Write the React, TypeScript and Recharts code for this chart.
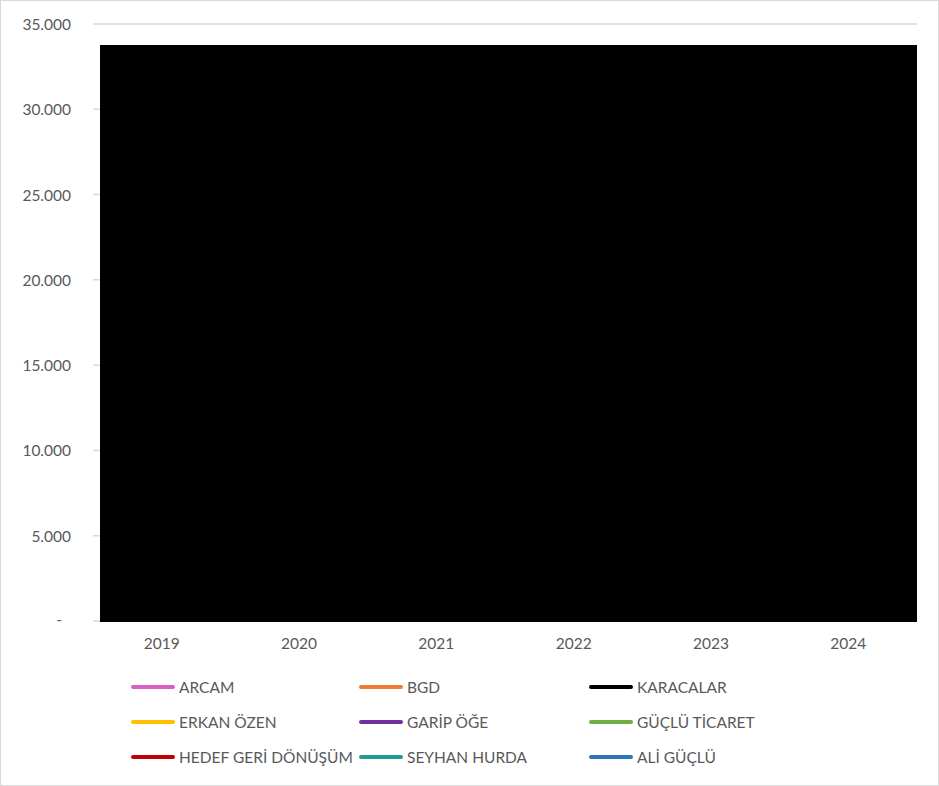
import React from 'react';
import { Bar, CartesianGrid, ComposedChart, XAxis, YAxis } from 'recharts';

const years = ['2019', '2020', '2021', '2022', '2023', '2024'];
const karacalar = [33750, 33750, 33750, 33750, 33750, 33750];
const yTicks = [0, 5000, 10000, 15000, 20000, 25000, 30000, 35000];

const seriesNames = [
  'ARCAM', 'BGD', 'KARACALAR',
  'ERKAN ÖZEN', 'GARİP ÖĞE', 'GÜÇLÜ TİCARET',
  'HEDEF GERİ DÖNÜŞÜM', 'SEYHAN HURDA', 'ALİ GÜÇLÜ',
];
const seriesColors = [
  '#d95fc0', '#ed7d31', '#000000',
  '#ffc000', '#7030a0', '#70ad47',
  '#c00000', '#1f9a94', '#2e75b6',
];

const data = years.map((year, i) => ({ year, KARACALAR: karacalar[i] }));

const FONT = 'Lato, "Open Sans", sans-serif';
const TEXT = '#595959';

const formatThousands = (v: number) =>
  v === 0 ? '-' : `${Math.floor(v / 1000)}.${String(v % 1000).padStart(3, '0')}`;

const YTick = (props: any) => {
  const { x, y, payload } = props;
  const isZero = payload.value === 0;
  return (
    <text
      x={isZero ? x - 9 : x}
      y={isZero ? y - 2 : y}
      textAnchor="end"
      dominantBaseline="central"
      fill={TEXT}
      fontSize={15.5}
      fontFamily={FONT}
    >
      {formatThousands(payload.value)}
    </text>
  );
};

const LegendGrid: React.FC = () => (
  <div
    style={{
      position: 'absolute',
      left: 130,
      top: 675,
      display: 'grid',
      gridTemplateColumns: '228px 230px 230px',
      rowGap: 13,
      fontFamily: FONT,
      fontSize: 15.5,
      color: TEXT,
    }}
  >
    {seriesNames.map((name, i) => (
      <div key={name} style={{ display: 'flex', alignItems: 'center', height: 22, whiteSpace: 'nowrap' }}>
        <span
          style={{
            display: 'inline-block',
            width: 44,
            height: 4,
            borderRadius: 2,
            background: seriesColors[i],
            marginRight: 4,
          }}
        />
        {name}
      </div>
    ))}
  </div>
);

export default function App() {
  return (
    <div
      style={{
        position: 'absolute',
        left: 0,
        top: 0,
        width: 937,
        height: 784,
        border: '1px solid #d9d9d9',
        background: '#ffffff',
      }}
    >
      <div style={{ position: 'absolute', left: -1, top: -1 }}>
        <ComposedChart
          width={939}
          height={786}
          data={data}
          barCategoryGap={0}
          margin={{ top: 24, right: 22, left: 0, bottom: 135 }}
        >
          <CartesianGrid vertical={false} stroke="#d9d9d9" strokeWidth={1.5} />
          <XAxis
            dataKey="year"
            axisLine={false}
            tickLine={false}
            tickMargin={11}
            height={30}
            tick={{ fill: TEXT, fontSize: 15.5, fontFamily: FONT }}
          />
          <XAxis xAxisId="bars" dataKey="year" hide padding={{ left: 7, right: 0 }} />
          <YAxis
            width={93}
            domain={[0, 35000]}
            ticks={yTicks}
            axisLine={false}
            tickLine={false}
            tickSize={0}
            tickMargin={22}
            tick={<YTick />}
          />
          <Bar
            xAxisId="bars"
            dataKey="KARACALAR"
            fill="#000000"
            stroke="#000000"
            strokeWidth={1}
            shapeRendering="crispEdges"
            isAnimationActive={false}
          />
        </ComposedChart>
      </div>
      <LegendGrid />
    </div>
  );
}
